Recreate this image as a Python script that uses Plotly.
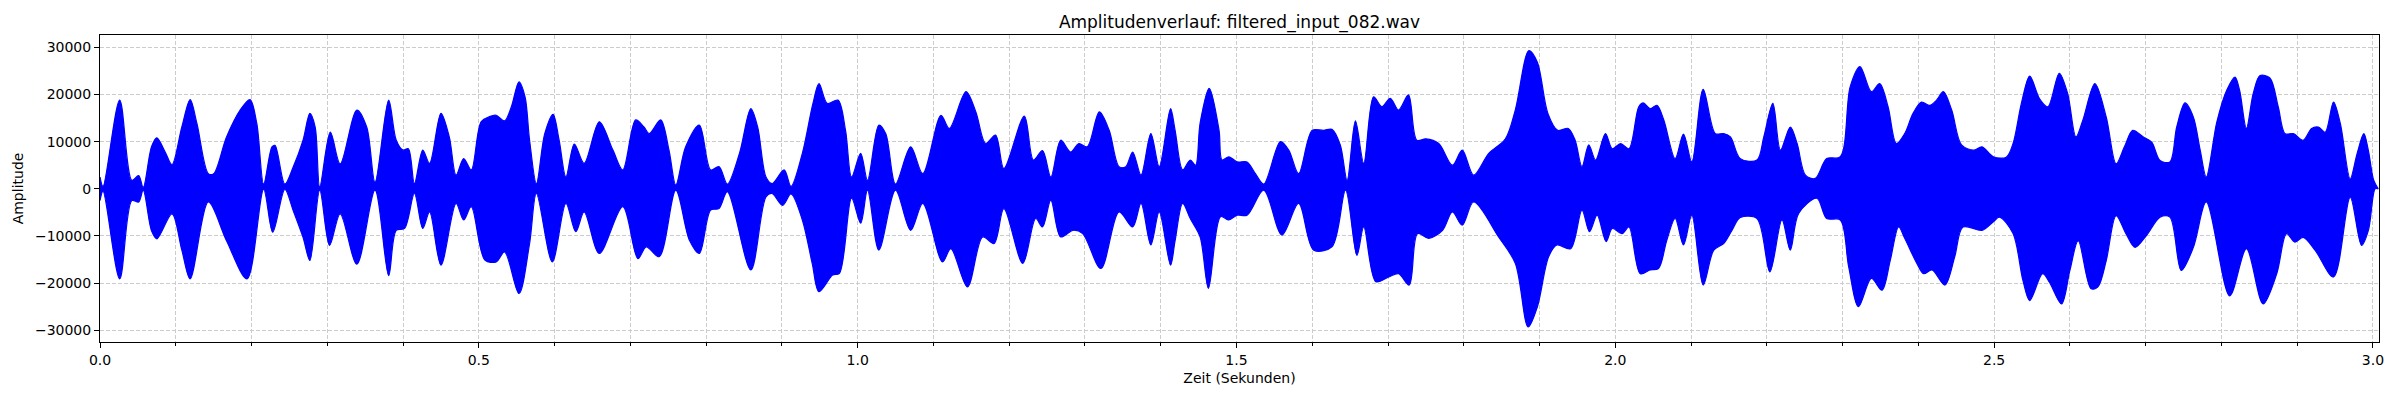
import plotly.graph_objects as go

# Hüllkurve des Signals, oben und unten
zeit_oben = [
    0.000, 0.004, 0.026, 0.042, 0.051, 0.057, 0.068, 0.075, 0.086, 0.095,
    0.108, 0.119, 0.128, 0.143, 0.150, 0.167, 0.185, 0.198, 0.207, 0.216,
    0.227, 0.231, 0.244, 0.255, 0.268, 0.277, 0.284, 0.290, 0.304, 0.317,
    0.339, 0.352, 0.363, 0.381, 0.391, 0.400, 0.407, 0.415, 0.426, 0.435,
    0.450, 0.461, 0.470, 0.480, 0.490, 0.503, 0.514, 0.523, 0.534, 0.543,
    0.553, 0.561, 0.567, 0.576, 0.587, 0.598, 0.606, 0.615, 0.626, 0.639,
    0.659, 0.677, 0.690, 0.707, 0.718, 0.725, 0.740, 0.751, 0.760, 0.773,
    0.791, 0.806, 0.817, 0.828, 0.844, 0.859, 0.868, 0.879, 0.887, 0.903,
    0.912, 0.927, 0.941, 0.949, 0.960, 0.974, 0.984, 0.992, 1.004, 1.013,
    1.028, 1.037, 1.050, 1.070, 1.086, 1.110, 1.121, 1.143, 1.156, 1.169,
    1.182, 1.193, 1.220, 1.232, 1.244, 1.255, 1.268, 1.281, 1.292, 1.303,
    1.319, 1.332, 1.345, 1.354, 1.363, 1.374, 1.387, 1.398, 1.413, 1.419,
    1.429, 1.439, 1.446, 1.452, 1.464, 1.477, 1.481, 1.490, 1.501, 1.514,
    1.525, 1.536, 1.558, 1.569, 1.582, 1.600, 1.615, 1.626, 1.637, 1.646,
    1.657, 1.668, 1.681, 1.692, 1.703, 1.714, 1.727, 1.738, 1.750, 1.767,
    1.785, 1.798, 1.813, 1.833, 1.855, 1.868, 1.886, 1.897, 1.911, 1.924,
    1.938, 1.947, 1.956, 1.965, 1.974, 1.987, 1.996, 2.007, 2.018, 2.031,
    2.037, 2.046, 2.055, 2.064, 2.079, 2.090, 2.101, 2.116, 2.132, 2.143,
    2.152, 2.165, 2.187, 2.196, 2.208, 2.218, 2.231, 2.240, 2.251, 2.264,
    2.279, 2.297, 2.310, 2.323, 2.338, 2.349, 2.360, 2.371, 2.382, 2.393,
    2.404, 2.415, 2.424, 2.433, 2.444, 2.457, 2.473, 2.484, 2.499, 2.516,
    2.525, 2.536, 2.547, 2.560, 2.571, 2.586, 2.597, 2.608, 2.617, 2.633,
    2.648, 2.661, 2.672, 2.683, 2.697, 2.708, 2.719, 2.732, 2.741, 2.752,
    2.763, 2.772, 2.780, 2.794, 2.807, 2.818, 2.824, 2.833, 2.842, 2.851,
    2.864, 2.875, 2.884, 2.895, 2.908, 2.919, 2.928, 2.937, 2.948, 2.957,
    2.970, 2.979, 2.988, 2.994, 3.001, 3.007,
]
amp_oben = [
    2500, 500, 18800, 1800, 2800, 300, 8900, 10800, 7800, 5100,
    13100, 18900, 13800, 3200, 3200, 11000, 16700, 18900, 13800, 1000,
    8900, 9200, 1000, 4600, 10300, 16000, 13100, 400, 12000, 5300,
    16700, 13100, 1400, 18800, 10300, 8200, 8500, 1100, 8200, 5400,
    16000, 11000, 2900, 6400, 4000, 14200, 15300, 15600, 14400, 17400,
    22700, 19500, 10300, 1100, 11700, 15800, 10300, 2500, 9500, 5400,
    14200, 8200, 4000, 14600, 13100, 11700, 14600, 8200, 800, 8900,
    13500, 4000, 4700, 1000, 7500, 17000, 13100, 2500, 1100, 4000,
    500, 7500, 18100, 22300, 18100, 18800, 12400, 2500, 7500, 1800,
    13500, 11700, 1000, 8900, 3200, 15600, 12800, 20600, 16300, 9600,
    11400, 4300, 15400, 6100, 8100, 2500, 10300, 7800, 9600, 8900,
    16300, 12400, 4700, 4700, 7800, 2900, 11700, 4700, 17000, 12400,
    4000, 6100, 5000, 13900, 21300, 12400, 6100, 6800, 5700, 5700,
    3200, 1000, 10000, 8200, 3200, 12400, 12400, 12600, 9300, 1800,
    14400, 5400, 19500, 17400, 19200, 16700, 19900, 10300, 10600, 9600,
    5000, 8200, 2900, 7500, 10600, 16700, 29300, 26900, 16000, 12400,
    12800, 10300, 4700, 9300, 6100, 11700, 8500, 9600, 8500, 17400,
    18200, 17000, 17700, 14600, 6400, 11600, 5700, 21100, 11700, 11700,
    11000, 6400, 6100, 11000, 18100, 8200, 13100, 9600, 2900, 2200,
    6400, 6800, 21600, 25900, 20600, 22300, 17400, 9600, 11700, 16000,
    18400, 17700, 18800, 20600, 16700, 9300, 8200, 8900, 6800, 6700,
    9600, 18100, 23900, 19100, 17400, 24500, 20200, 11000, 14500, 22300,
    15200, 5300, 8900, 12400, 11000, 9900, 6000, 5700, 13100, 18200,
    15200, 8200, 2500, 14200, 20900, 23700, 20900, 12800, 20200, 24000,
    23500, 17400, 11700, 11700, 10300, 12800, 13100, 12000, 18400, 13800,
    2100, 7400, 11700, 8100, 1800, 0,
]

zeit_unten = [
    0.000, 0.004, 0.026, 0.042, 0.051, 0.057, 0.068, 0.075, 0.095, 0.108,
    0.119, 0.143, 0.167, 0.194, 0.216, 0.228, 0.244, 0.255, 0.268, 0.277,
    0.290, 0.303, 0.317, 0.339, 0.363, 0.381, 0.391, 0.402, 0.415, 0.426,
    0.435, 0.450, 0.470, 0.480, 0.490, 0.508, 0.523, 0.534, 0.553, 0.567,
    0.576, 0.597, 0.615, 0.628, 0.639, 0.659, 0.690, 0.710, 0.721, 0.738,
    0.760, 0.778, 0.791, 0.806, 0.817, 0.828, 0.859, 0.879, 0.887, 0.901,
    0.912, 0.927, 0.940, 0.949, 0.967, 0.976, 0.992, 1.004, 1.013, 1.028,
    1.050, 1.070, 1.086, 1.112, 1.123, 1.145, 1.165, 1.180, 1.193, 1.218,
    1.235, 1.244, 1.255, 1.268, 1.284, 1.297, 1.321, 1.345, 1.363, 1.374,
    1.387, 1.398, 1.413, 1.419, 1.429, 1.439, 1.452, 1.463, 1.479, 1.490,
    1.501, 1.514, 1.536, 1.560, 1.582, 1.602, 1.626, 1.644, 1.659, 1.668,
    1.684, 1.701, 1.714, 1.728, 1.739, 1.754, 1.772, 1.785, 1.798, 1.813,
    1.846, 1.868, 1.885, 1.897, 1.912, 1.923, 1.941, 1.956, 1.966, 1.976,
    1.988, 1.996, 2.009, 2.018, 2.033, 2.046, 2.057, 2.068, 2.079, 2.090,
    2.101, 2.116, 2.130, 2.143, 2.154, 2.165, 2.187, 2.204, 2.220, 2.231,
    2.242, 2.266, 2.279, 2.297, 2.308, 2.321, 2.338, 2.352, 2.363, 2.374,
    2.382, 2.398, 2.407, 2.418, 2.435, 2.448, 2.459, 2.484, 2.499, 2.507,
    2.525, 2.538, 2.547, 2.564, 2.573, 2.589, 2.600, 2.611, 2.628, 2.637,
    2.648, 2.661, 2.674, 2.686, 2.701, 2.719, 2.732, 2.747, 2.763, 2.780,
    2.811, 2.833, 2.855, 2.873, 2.886, 2.897, 2.908, 2.924, 2.948, 2.970,
    2.985, 2.994, 3.003, 3.007,
]
amp_unten = [
    -2500, -500, -19100, -2500, -2800, -300, -8900, -10600, -5300, -13000,
    -19100, -2800, -11000, -19100, -100, -9200, -100, -4600, -10300, -15200,
    -300, -12000, -5300, -16000, -300, -18400, -8800, -8400, -1000, -8400,
    -4900, -16200, -3100, -6600, -3800, -15100, -15500, -13400, -22200, -11600,
    -1000, -15500, -3100, -9100, -4900, -13700, -3800, -14800, -12300, -14400,
    -300, -10900, -13700, -4500, -4200, -600, -17200, -1700, -1000, -3500,
    -1100, -6600, -15800, -21800, -18300, -17900, -2000, -7300, -300, -13000,
    -300, -8800, -3100, -15500, -12700, -20800, -10200, -11600, -4200, -15800,
    -6300, -8100, -2400, -10200, -8800, -9500, -16900, -4900, -8100, -3100,
    -11900, -4900, -16200, -11000, -3100, -6300, -10200, -21100, -5900, -6600,
    -5600, -5600, -300, -9800, -3100, -13000, -12300, -300, -14100, -8100,
    -19700, -18700, -18000, -20400, -9500, -10500, -8800, -4900, -7700, -2800,
    -10200, -15800, -29300, -25100, -14400, -11900, -12700, -4500, -9100, -5600,
    -11200, -8400, -9500, -8100, -18000, -17200, -16900, -10900, -6300, -11900,
    -5600, -20400, -13000, -11600, -8800, -6100, -6300, -17600, -6600, -13000,
    -5200, -2000, -6300, -6600, -16500, -25000, -19000, -21500, -15100, -8100,
    -10500, -15800, -18000, -17200, -20400, -14400, -8100, -8800, -7000, -6000,
    -9500, -19400, -23700, -18000, -19800, -24400, -17300, -11000, -21200, -20800,
    -15200, -5700, -9500, -12400, -9900, -6000, -6000, -17300, -12400, -2800,
    -22700, -12700, -24400, -18000, -9500, -11300, -10300, -13100, -18700, -1800,
    -12000, -8800, 0, 0,
]

x_ticks = [0.0, 0.5, 1.0, 1.5, 2.0, 2.5, 3.0]
y_ticks = [-30000, -20000, -10000, 0, 10000, 20000, 30000]

fig = go.Figure()

# geschlossene Fläche: obere Hüllkurve hin, untere zurück
fig.add_trace(go.Scatter(
    x=zeit_oben + zeit_unten[::-1],
    y=amp_oben + amp_unten[::-1],
    mode="lines",
    fill="toself",
    fillcolor="#0000ff",
    line=dict(color="#0000ff", width=1.2, shape="spline", smoothing=0.9),
    showlegend=False,
    hoverinfo="skip",
))

grid = dict(gridcolor="#cccccc", griddash="4px,2px", gridwidth=1)

# die Seite hat 8px Rand im body, daher Figur etwas kleiner
fig.update_layout(
    width=2392,
    height=392,
    plot_bgcolor="white",
    paper_bgcolor="white",
    font=dict(family="DejaVu Sans", size=14, color="black"),
    margin=dict(l=92, r=21, t=27, b=58),
    title=dict(text="Amplitudenverlauf: filtered_input_082.wav",
               x=0.5, xref="paper", y=1 - 14 / 392, yref="container",
               xanchor="center", yanchor="middle",
               font=dict(size=17, color="black")),
)

fig.update_xaxes(
    range=[0, 3.008],
    automargin=False,
    tickvals=x_ticks,
    tickformat=".1f",
    ticks="outside", ticklen=5, tickwidth=1, tickcolor="black",
    showline=True, linecolor="black", linewidth=1, mirror=True,
    zeroline=False,
    showgrid=True, **grid,
    minor=dict(dtick=0.1, ticks="outside", ticklen=3, tickcolor="black",
               showgrid=True, **grid),
    title=dict(text="Zeit (Sekunden)", standoff=6, font=dict(size=14)),
)
fig.update_yaxes(
    range=[-32480, 32610],
    automargin=False,
    tickvals=y_ticks,
    tickformat="d",
    ticks="outside", ticklen=5, tickwidth=1, tickcolor="black",
    showline=True, linecolor="black", linewidth=1, mirror=True,
    zeroline=False,
    showgrid=True, **grid,
    title=dict(text="Amplitude", standoff=8, font=dict(size=14)),
)

fig.write_html("out.html")
